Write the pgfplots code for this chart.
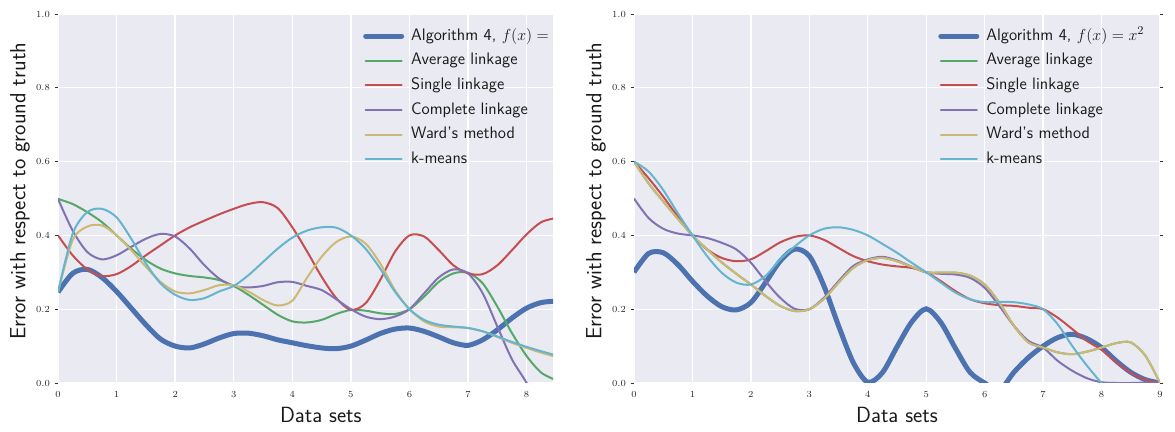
\documentclass[border=0pt]{standalone}
\usepackage{pgfplots}
\pgfplotsset{compat=1.18}

\definecolor{sbbg}{HTML}{EAEAF2}
\definecolor{sbblue}{HTML}{4C72B0}
\definecolor{sbgreen}{HTML}{55A868}
\definecolor{sbred}{HTML}{C44E52}
\definecolor{sbpurple}{HTML}{8172B2}
\definecolor{sbyellow}{HTML}{CCB974}
\definecolor{sbcyan}{HTML}{64B5CD}

\newcommand{\labfont}{\fontsize{16.5}{19}\selectfont\sffamily}

\pgfplotsset{
  sbstyle/.style={
    scale only axis,
    height=276.75pt,
    ymin=0, ymax=1,
    ytick={0,0.2,0.4,0.6,0.8,1.0},
    xtick={0,1,...,9},
    yticklabel style={/pgf/number format/.cd,fixed,fixed zerofill,precision=1},
    tick label style={font=\fontsize{7.5}{9}\selectfont, text=black!85},
    axis background/.style={fill=sbbg},
    axis line style={draw=none},
    grid=major,
    major grid style={draw=white, line width=1pt},
    tick align=outside,
    major tick length=2.5pt,
    xtick style={draw=none},
    ytick style={draw=black!80, line width=0.5pt},
    xlabel={Data sets},
    ylabel={Error with respect to ground truth},
    legend cell align=left,
    legend image code/.code={\draw[##1,line cap=round] (0pt,0pt) -- (27pt,0pt);},
    legend style={draw=none, fill=none, inner sep=0pt, anchor=north west,
      font=\fontsize{12.5}{15}\selectfont\sffamily, text=black!90,
      row sep=1.25pt, column sep=3pt,
      nodes={inner sep=2.25pt, text height=9.5pt, text depth=3.25pt}},
    every axis plot/.append style={smooth, line width=1.5pt},
  },
}

\begin{document}
\begin{tikzpicture}
\useasboundingbox (0,0) rectangle (881.25pt,324pt);

% left panel
\begin{axis}[sbstyle,
  at={(43.5pt,36.75pt)}, anchor=south west,
  width=371.25pt,
  xmin=0, xmax=8.45,
  ytick pos=left,
  every axis x label/.style={at={(axis description cs:0.531,-0.1084)}, anchor=base,
    font=\labfont, text=black!90},
  every axis y label/.style={at={(axis description cs:-0.0768,0.52)}, rotate=90,
    anchor=center, font=\labfont, text=black!90},
  legend style={at={(axis description cs:0.616,0.972)}},
]
\addplot[sbblue, line width=3.75pt] coordinates {
 (0,0.246) (0.25,0.297) (0.5,0.308) (0.75,0.286) (1,0.248) (1.25,0.203) (1.5,0.158)
 (1.75,0.119) (2,0.100) (2.25,0.095) (2.5,0.106) (2.75,0.122) (3,0.134) (3.25,0.135)
 (3.5,0.128) (3.75,0.117) (4,0.109) (4.25,0.101) (4.5,0.095) (4.75,0.093) (5,0.100)
 (5.25,0.116) (5.5,0.134) (5.75,0.146) (6,0.149) (6.25,0.140) (6.5,0.125) (6.75,0.109)
 (7,0.102) (7.25,0.117) (7.5,0.144) (7.75,0.176) (8,0.203) (8.25,0.218) (8.5,0.222)};
\addlegendentry{Algorithm 4, $f(x) =$}
\addplot[sbgreen] coordinates {
 (0,0.499) (0.25,0.485) (0.5,0.463) (0.75,0.436) (1,0.400) (1.25,0.364) (1.5,0.333)
 (1.75,0.310) (2,0.297) (2.25,0.290) (2.5,0.286) (2.75,0.279) (3,0.263) (3.25,0.239)
 (3.5,0.212) (3.75,0.185) (4,0.167) (4.25,0.164) (4.5,0.171) (4.75,0.187) (5,0.198)
 (5.25,0.196) (5.5,0.189) (5.75,0.187) (6,0.200) (6.25,0.234) (6.5,0.274) (6.75,0.297)
 (7,0.299) (7.25,0.270) (7.5,0.207) (7.75,0.135) (8,0.073) (8.25,0.028) (8.5,0.008)};
\addlegendentry{Average linkage}
\addplot[sbred] coordinates {
 (0,0.400) (0.25,0.346) (0.5,0.308) (0.75,0.290) (1,0.295) (1.25,0.317) (1.5,0.346)
 (1.75,0.373) (2,0.400) (2.25,0.422) (2.5,0.440) (2.75,0.457) (3,0.472) (3.25,0.485)
 (3.5,0.490) (3.75,0.474) (4,0.422) (4.25,0.357) (4.5,0.288) (4.75,0.230) (5,0.198)
 (5.25,0.216) (5.5,0.279) (5.75,0.355) (6,0.400) (6.25,0.397) (6.5,0.360) (6.75,0.319)
 (7,0.297) (7.25,0.295) (7.5,0.319) (7.75,0.360) (8,0.403) (8.25,0.436) (8.5,0.447)};
\addlegendentry{Single linkage}
\addplot[sbpurple] coordinates {
 (0,0.499) (0.25,0.413) (0.5,0.355) (0.75,0.335) (1,0.346) (1.25,0.369) (1.5,0.391)
 (1.75,0.404) (2,0.397) (2.25,0.364) (2.5,0.319) (2.75,0.283) (3,0.263) (3.25,0.259)
 (3.5,0.263) (3.75,0.273) (4,0.274) (4.25,0.263) (4.5,0.252) (4.75,0.227) (5,0.200)
 (5.25,0.180) (5.5,0.173) (5.75,0.180) (6,0.200) (6.25,0.243) (6.5,0.286) (6.75,0.308)
 (7,0.297) (7.25,0.243) (7.5,0.153) (7.75,0.064) (8,0.0) (8.25,-0.08) (8.5,-0.15)};
\addlegendentry{Complete linkage}
\addplot[sbyellow] coordinates {
 (0,0.246) (0.25,0.387) (0.5,0.424) (0.75,0.427) (1,0.400) (1.25,0.360) (1.5,0.315)
 (1.75,0.274) (2,0.248) (2.25,0.243) (2.5,0.252) (2.75,0.265) (3,0.265) (3.25,0.248)
 (3.5,0.225) (3.75,0.210) (4,0.223) (4.25,0.285) (4.5,0.342) (4.75,0.382) (5,0.397)
 (5.25,0.378) (5.5,0.324) (5.75,0.252) (6,0.200) (6.25,0.167) (6.5,0.153) (6.75,0.151)
 (7,0.149) (7.25,0.140) (7.5,0.125) (7.75,0.109) (8,0.095) (8.25,0.082) (8.5,0.071)};
\addlegendentry{Ward's method}
\addplot[sbcyan] coordinates {
 (0,0.246) (0.25,0.404) (0.5,0.463) (0.75,0.472) (1,0.449) (1.25,0.391) (1.5,0.324)
 (1.75,0.270) (2,0.239) (2.25,0.225) (2.5,0.230) (2.75,0.248) (3,0.263) (3.25,0.292)
 (3.5,0.328) (3.75,0.364) (4,0.394) (4.25,0.413) (4.5,0.422) (4.75,0.421) (5,0.400)
 (5.25,0.364) (5.5,0.310) (5.75,0.248) (6,0.200) (6.25,0.171) (6.5,0.158) (6.75,0.153)
 (7,0.149) (7.25,0.140) (7.5,0.126) (7.75,0.111) (8,0.098) (8.25,0.086) (8.5,0.075)};
\addlegendentry{k-means}
\end{axis}

% right panel
\begin{axis}[sbstyle,
  at={(475.5pt,36.75pt)}, anchor=south west,
  width=394.5pt,
  xmin=0, xmax=9,
  ytick pos=both,
  every axis x label/.style={at={(axis description cs:0.5,-0.1084)}, anchor=base,
    font=\labfont, text=black!90},
  every axis y label/.style={at={(axis description cs:-0.0722,0.52)}, rotate=90,
    anchor=center, font=\labfont, text=black!90},
  legend style={at={(axis description cs:0.578,0.972)}},
]
\addplot[sbblue, line width=3.75pt] coordinates {
 (0,0.300) (0.25,0.351) (0.5,0.353) (0.75,0.321) (1,0.276) (1.25,0.236) (1.5,0.207)
 (1.75,0.198) (2,0.218) (2.25,0.272) (2.5,0.330) (2.75,0.363) (3,0.344) (3.25,0.263)
 (3.5,0.155) (3.75,0.056) (4,0.002) (4.25,0.028) (4.5,0.098) (4.75,0.165) (5,0.201)
 (5.25,0.164) (5.5,0.094) (5.75,0.029) (6,0.0) (6.25,-0.02) (6.5,0.029) (6.75,0.069)
 (7,0.100) (7.25,0.123) (7.5,0.132) (7.75,0.120) (8,0.096) (8.25,0.060) (8.5,0.029)
 (8.75,0.009) (9,0.0)};
\addlegendentry{Algorithm 4, $f(x) = x^2$}
\addplot[sbgreen] coordinates {
 (0,0.600) (0.25,0.541) (0.5,0.492) (0.75,0.445) (1,0.400) (1.25,0.362) (1.5,0.327)
 (1.75,0.296) (2,0.267) (2.25,0.236) (2.5,0.209) (2.75,0.195) (3,0.200) (3.25,0.228)
 (3.5,0.272) (3.75,0.312) (4,0.333) (4.25,0.339) (4.5,0.330) (4.75,0.315) (5,0.300)
 (5.25,0.299) (5.5,0.299) (5.75,0.291) (6,0.267) (6.25,0.218) (6.5,0.155) (6.75,0.110)
 (7,0.096) (7.25,0.083) (7.5,0.078) (7.75,0.085) (8,0.096) (8.25,0.108) (8.5,0.110)
 (8.75,0.074) (9,0.0)};
\addlegendentry{Average linkage}
\addplot[sbred] coordinates {
 (0,0.600) (0.25,0.555) (0.5,0.505) (0.75,0.451) (1,0.400) (1.25,0.362) (1.5,0.339)
 (1.75,0.330) (2,0.335) (2.25,0.357) (2.5,0.381) (2.75,0.396) (3,0.400) (3.25,0.388)
 (3.5,0.366) (3.75,0.344) (4,0.330) (4.25,0.321) (4.5,0.316) (4.75,0.312) (5,0.300)
 (5.25,0.276) (5.5,0.249) (5.75,0.227) (6,0.216) (6.25,0.211) (6.5,0.209) (6.75,0.204)
 (7,0.200) (7.25,0.177) (7.5,0.146) (7.75,0.114) (8,0.090) (8.25,0.056) (8.5,0.027)
 (8.75,0.009) (9,0.0)};
\addlegendentry{Single linkage}
\addplot[sbpurple] coordinates {
 (0,0.500) (0.25,0.447) (0.5,0.418) (0.75,0.405) (1,0.400) (1.25,0.393) (1.5,0.380)
 (1.75,0.362) (2,0.326) (2.25,0.276) (2.5,0.231) (2.75,0.201) (3,0.200) (3.25,0.231)
 (3.5,0.276) (3.75,0.317) (4,0.335) (4.25,0.342) (4.5,0.332) (4.75,0.315) (5,0.300)
 (5.25,0.296) (5.5,0.294) (5.75,0.285) (6,0.258) (6.25,0.209) (6.5,0.155) (6.75,0.114)
 (7,0.096) (7.25,0.060) (7.5,0.033) (7.75,0.013) (8,0.002) (8.25,0.0) (8.5,0.0)
 (8.75,0.001) (9,0.0)};
\addlegendentry{Complete linkage}
\addplot[sbyellow] coordinates {
 (0,0.600) (0.25,0.541) (0.5,0.492) (0.75,0.445) (1,0.400) (1.25,0.362) (1.5,0.327)
 (1.75,0.296) (2,0.267) (2.25,0.236) (2.5,0.209) (2.75,0.195) (3,0.200) (3.25,0.228)
 (3.5,0.272) (3.75,0.312) (4,0.333) (4.25,0.339) (4.5,0.330) (4.75,0.315) (5,0.300)
 (5.25,0.299) (5.5,0.299) (5.75,0.291) (6,0.267) (6.25,0.218) (6.5,0.155) (6.75,0.110)
 (7,0.096) (7.25,0.083) (7.5,0.078) (7.75,0.085) (8,0.096) (8.25,0.108) (8.5,0.110)
 (8.75,0.074) (9,0.0)};
\addlegendentry{Ward's method}
\addplot[sbcyan] coordinates {
 (0,0.600) (0.25,0.573) (0.5,0.523) (0.75,0.460) (1,0.400) (1.25,0.344) (1.5,0.299)
 (1.75,0.272) (2,0.267) (2.25,0.290) (2.5,0.335) (2.75,0.370) (3,0.400) (3.25,0.418)
 (3.5,0.422) (3.75,0.415) (4,0.400) (4.25,0.377) (4.5,0.353) (4.75,0.326) (5,0.300)
 (5.25,0.272) (5.5,0.245) (5.75,0.227) (6,0.219) (6.25,0.220) (6.5,0.219) (6.75,0.213)
 (7,0.200) (7.25,0.159) (7.5,0.100) (7.75,0.047) (8,0.0) (8.25,-0.04)};
\addlegendentry{k-means}
\end{axis}
\end{tikzpicture}
\end{document}
